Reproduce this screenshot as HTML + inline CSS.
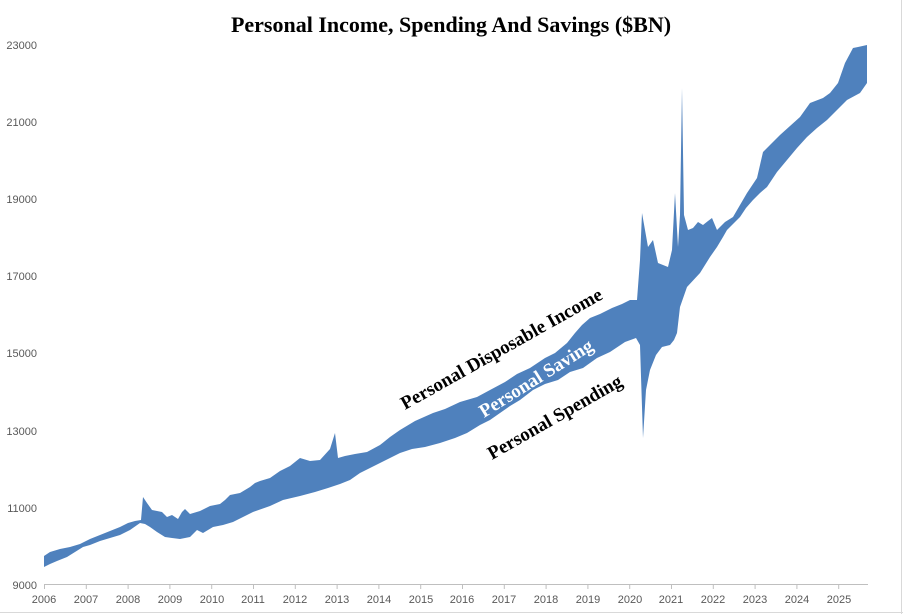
<!DOCTYPE html>
<html><head><meta charset="utf-8"><style>
html,body{margin:0;padding:0;background:#fff;}
svg{display:block;}
</style></head><body>
<svg width="903" height="614" xmlns="http://www.w3.org/2000/svg">
<rect x="0" y="0" width="903" height="614" fill="#fff"/>
<line x1="901.5" y1="0" x2="901.5" y2="614" stroke="#d9d9d9"/>
<line x1="0" y1="612.5" x2="903" y2="612.5" stroke="#d9d9d9"/>
<text x="451" y="32" text-anchor="middle" font-family="Liberation Serif, serif" font-weight="bold" font-size="22">Personal Income, Spending And Savings ($BN)</text>
<g font-family="Liberation Sans, sans-serif" font-size="11" fill="#595959" text-anchor="end">
<text x="37" y="49">23000</text><text x="37" y="126">21000</text><text x="37" y="203">19000</text>
<text x="37" y="280">17000</text><text x="37" y="357">15000</text><text x="37" y="435">13000</text>
<text x="37" y="512">11000</text><text x="37" y="589">9000</text>
</g>
<line x1="44" y1="584.5" x2="868" y2="584.5" stroke="#bfbfbf"/>
<g stroke="#bfbfbf">
<line x1="44.5" y1="584" x2="44.5" y2="589"/><line x1="86.3" y1="584" x2="86.3" y2="589"/><line x1="128.1" y1="584" x2="128.1" y2="589"/><line x1="169.9" y1="584" x2="169.9" y2="589"/><line x1="211.7" y1="584" x2="211.7" y2="589"/><line x1="253.5" y1="584" x2="253.5" y2="589"/><line x1="295.3" y1="584" x2="295.3" y2="589"/><line x1="337.1" y1="584" x2="337.1" y2="589"/><line x1="378.9" y1="584" x2="378.9" y2="589"/><line x1="420.7" y1="584" x2="420.7" y2="589"/><line x1="462.5" y1="584" x2="462.5" y2="589"/><line x1="504.3" y1="584" x2="504.3" y2="589"/><line x1="546.1" y1="584" x2="546.1" y2="589"/><line x1="587.9" y1="584" x2="587.9" y2="589"/><line x1="629.7" y1="584" x2="629.7" y2="589"/><line x1="671.5" y1="584" x2="671.5" y2="589"/><line x1="713.3" y1="584" x2="713.3" y2="589"/><line x1="755.1" y1="584" x2="755.1" y2="589"/><line x1="796.9" y1="584" x2="796.9" y2="589"/><line x1="838.7" y1="584" x2="838.7" y2="589"/>
</g>
<g font-family="Liberation Sans, sans-serif" font-size="11" fill="#595959" text-anchor="middle">
<text x="44" y="603">2006</text><text x="86" y="603">2007</text><text x="128" y="603">2008</text><text x="170" y="603">2009</text><text x="212" y="603">2010</text><text x="253" y="603">2011</text><text x="295" y="603">2012</text><text x="337" y="603">2013</text><text x="379" y="603">2014</text><text x="421" y="603">2015</text><text x="462" y="603">2016</text><text x="504" y="603">2017</text><text x="546" y="603">2018</text><text x="588" y="603">2019</text><text x="630" y="603">2020</text><text x="671" y="603">2021</text><text x="713" y="603">2022</text><text x="755" y="603">2023</text><text x="797" y="603">2024</text><text x="839" y="603">2025</text>
</g>
<polygon fill="#4f81bd" points="44,556 50,552 60,549 70,547 80,544 90,539 100,535 110,531 120,527 128,523 135,521 141,520 143,497 147,503 152,510 157,511 162,512 167,517 172,515 178,519 182,512 185,509 190,514 200,511 210,506 220,504 225,500 230,495 240,493 250,487 255,483 260,481 270,478 280,471 290,466 300,458 310,461 320,460 330,449 335,433 338,458 345,456 355,454 367,452 380,445 390,437 400,430 415,421 433,413 445,409 460,402 477,397 490,390 505,382 517,374 530,368 545,358 555,353 567,343 575,333 582,325 590,318 600,314 612,308 622,304 630,300 637,300 640,260 642,213 645,230 648,247 653,240 658,263 663,265 668,267 672,250 675,193 678,247 680,215 682,88 684,215 688,230 693,228 698,222 703,225 708,221 712,218 717,230 725,222 733,217 740,205 747,193 757,178 763,152 770,145 780,135 790,126 800,117 810,103 823,98 830,93 838,83 845,63 853,48 858,47 867,45 867,83 860,93 847,100 837,110 827,120 817,128 807,137 797,148 787,160 777,172 767,187 760,193 753,200 746,208 740,217 727,230 723,237 717,247 710,257 700,273 687,287 680,307 677,333 674,340 670,345 662,347 656,355 650,370 646,390 643,438 640,345 636,338 625,342 610,352 597,358 583,368 570,372 558,380 545,384 533,390 520,400 510,406 500,413 490,420 480,425 467,433 455,438 440,443 425,447 412,449 400,453 390,458 380,463 370,468 360,473 350,480 340,484 328,488 315,492 300,496 283,500 270,506 253,512 243,517 233,522 223,525 213,527 203,533 197,530 190,537 180,539 172,538 165,537 157,532 150,527 145,524 140,523 130,530 120,535 110,538 100,541 90,545 83,547 75,552 67,557 57,561 50,564 44,567"/>
<g font-family="Liberation Serif, serif" font-weight="bold" font-size="19">
<text transform="translate(405,410) rotate(-29.3)">Personal Disposable Income</text>
<text transform="translate(484,418) rotate(-32)" fill="#fff">Personal Saving</text>
<text transform="translate(492,460) rotate(-29.7)">Personal Spending</text>
</g>
</svg>
</body></html>
